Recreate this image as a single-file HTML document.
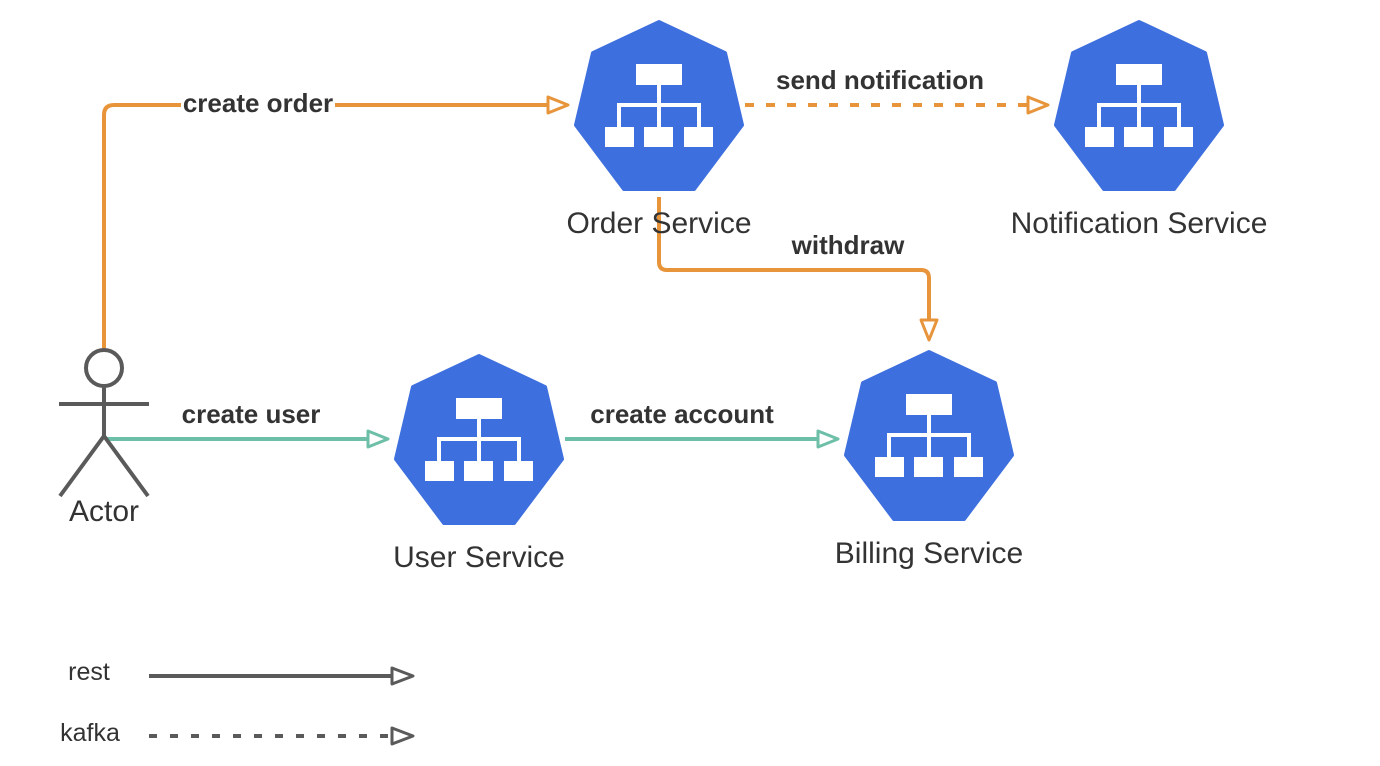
<!DOCTYPE html>
<html><head><meta charset="utf-8"><style>
body{margin:0;width:1380px;height:766px;background:#fff;overflow:hidden}
svg{display:block}
text{font-family:"Liberation Sans",sans-serif;fill:#333}
.b{font-weight:bold;font-size:26px}
.n{font-size:30px}
</style></head><body>
<svg width="1380" height="766" viewBox="0 0 1380 766">
<defs>
<g id="hex">
<polygon points="86,2 152,33 169,105 121,169 51,169 3,105 20,33" fill="#3E6FDE" stroke="#3E6FDE" stroke-width="4" stroke-linejoin="round"/>
<rect x="63" y="44" width="46" height="21" fill="#fff"/>
<rect x="32" y="107" width="29" height="20" fill="#fff"/>
<rect x="71" y="107" width="29" height="20" fill="#fff"/>
<rect x="111" y="107" width="29" height="20" fill="#fff"/>
<path d="M86 65V107M46 107V85H126V107" stroke="#fff" stroke-width="4" fill="none"/>
</g>
</defs>
<use href="#hex" x="573" y="20"/>
<use href="#hex" x="1053" y="20"/>
<use href="#hex" x="393" y="354"/>
<use href="#hex" x="843" y="350"/>

<g fill="none" stroke-width="4" stroke-linejoin="round">
<path d="M104 349V115Q104 105 114 105H548" stroke="#E8943A"/>
<path d="M548 97L568 105L548 113Z" stroke="#E8943A" fill="#fff" stroke-width="3"/>
<path d="M745 105H1028" stroke="#E8943A" stroke-dasharray="9 12"/>
<path d="M1028 97L1048 105L1028 113Z" stroke="#E8943A" fill="#fff" stroke-width="3"/>
<path d="M659 197V262Q659 270 667 270H921Q929 270 929 278V320" stroke="#E8943A"/>
<path d="M921 320L929 340L937 320Z" stroke="#E8943A" fill="#fff" stroke-width="3"/>
<path d="M107 439H368" stroke="#6DBFA7"/>
<path d="M368 431L388 439L368 447Z" stroke="#6DBFA7" fill="#fff" stroke-width="3"/>
<path d="M565 439H818" stroke="#6DBFA7"/>
<path d="M818 431L838 439L818 447Z" stroke="#6DBFA7" fill="#fff" stroke-width="3"/>
<path d="M149 676H392" stroke="#5a5a5a"/>
<path d="M392 668L413 676L392 684Z" stroke="#5a5a5a" fill="#fff" stroke-width="3"/>
<path d="M149 736H392" stroke="#5a5a5a" stroke-dasharray="8 13"/>
<path d="M392 728L413 736L392 744Z" stroke="#5a5a5a" fill="#fff" stroke-width="3"/>
<g stroke="#5a5a5a">
<circle cx="104" cy="368" r="18" fill="#fff"/>
<path d="M104 386V436M59 404H149M60 496L104 436L148 496"/>
</g>
</g>
<rect x="181" y="90" width="154" height="28" fill="#fff"/>
<text class="b" x="258" y="112" text-anchor="middle">create order</text>
<text class="b" x="880" y="89" text-anchor="middle">send notification</text>
<text class="b" x="848" y="254" text-anchor="middle">withdraw</text>
<text class="b" x="251" y="423" text-anchor="middle">create user</text>
<text class="b" x="682" y="423" text-anchor="middle">create account</text>
<text class="n" x="659" y="233" text-anchor="middle">Order Service</text>
<text class="n" x="1139" y="233" text-anchor="middle">Notification Service</text>
<text class="n" x="479" y="567" text-anchor="middle">User Service</text>
<text class="n" x="929" y="563" text-anchor="middle">Billing Service</text>
<text class="n" x="104" y="521" text-anchor="middle">Actor</text>
<text x="89" y="680" text-anchor="middle" font-size="25">rest</text>
<text x="90" y="741" text-anchor="middle" font-size="25">kafka</text>
</svg>
</body></html>
